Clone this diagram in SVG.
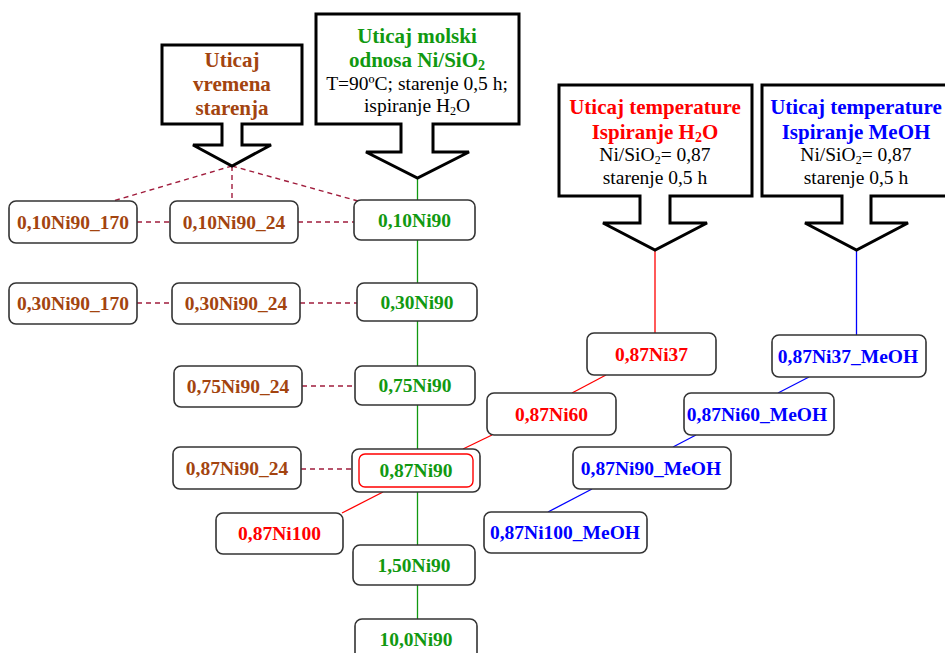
<svg xmlns="http://www.w3.org/2000/svg" width="945" height="653" viewBox="0 0 945 653">
<style>
.bg{fill:#ffffff}
.callout{fill:#ffffff;stroke:#000000;stroke-width:3;stroke-linejoin:miter}
.node{fill:#ffffff;stroke:#333333;stroke-width:1.6}
.inner{fill:none;stroke:#ff0000;stroke-width:1.4}
text{font-family:"Liberation Serif","Times New Roman",serif;text-anchor:middle}
.lbl{font-size:19.5px;font-weight:bold}
.ttl{font-size:21px;font-weight:bold}
.sub{font-size:19.5px;fill:#000000}
.br{fill:#a3440f}
.gr{fill:#119911}
.rd{fill:#ff0000}
.bl{fill:#0000ff}
.dash{stroke:#a01c3c;stroke-width:1.4;stroke-dasharray:5,4;fill:none}
.lg{stroke:#119911;stroke-width:1.3;fill:none}
.lr{stroke:#ff0000;stroke-width:1.3;fill:none}
.lb{stroke:#0000ff;stroke-width:1.3;fill:none}
</style>
<rect class="bg" x="0" y="0" width="945" height="653"/>

<g id="connectors">
  <line class="lg" x1="417.5" y1="178" x2="417.5" y2="620"/>
  <line class="dash" x1="232" y1="166" x2="113" y2="201"/>
  <line class="dash" x1="232" y1="166" x2="232" y2="201"/>
  <line class="dash" x1="232" y1="166" x2="358" y2="201"/>
  <line class="dash" x1="137" y1="222" x2="170" y2="222"/>
  <line class="dash" x1="298" y1="222" x2="354" y2="222"/>
  <line class="dash" x1="137" y1="303" x2="172" y2="303"/>
  <line class="dash" x1="300" y1="303" x2="357" y2="303"/>
  <line class="dash" x1="302" y1="386" x2="355" y2="386"/>
  <line class="dash" x1="301" y1="469" x2="352" y2="469"/>
  <line class="lr" x1="655" y1="250" x2="655" y2="333"/>
  <line class="lr" x1="606" y1="375" x2="572" y2="393"/>
  <line class="lr" x1="492" y1="435" x2="463" y2="449"/>
  <line class="lr" x1="383" y1="492" x2="342" y2="513"/>
  <line class="lb" x1="856.5" y1="250" x2="856.5" y2="335"/>
  <line class="lb" x1="809" y1="377" x2="778" y2="393"/>
  <line class="lb" x1="696" y1="435" x2="673" y2="447"/>
  <line class="lb" x1="592" y1="489" x2="548" y2="512"/>
</g>

<g id="callout-vremena">
  <path class="callout" d="M162 45 H302 V124 H242 V145 H271 L232 166 L193 145 H222 V124 H162 Z"/>
  <text class="ttl br" x="232" y="67">Uticaj</text>
  <text class="ttl br" x="232" y="91">vremena</text>
  <text class="ttl br" x="232" y="115">starenja</text>
</g>

<g id="callout-molski">
  <path class="callout" d="M316 14 H519 V124 H433 V152 H469 L417.5 178 L366 152 H401 V124 H316 Z"/>
  <text class="ttl gr" x="417" y="43">Uticaj molski</text>
  <text class="ttl gr" x="417" y="67">odnosa Ni/SiO<tspan font-size="14" dy="3">2</tspan></text>
  <text class="sub" x="417" y="90">T=90ºC; starenje 0,5 h;</text>
  <text class="sub" x="417" y="112">ispiranje H<tspan font-size="12" dy="3">2</tspan><tspan dy="-3">O</tspan></text>
</g>

<g id="callout-temp-h2o">
  <path class="callout" d="M559 85 H752 V196 H670 V223 H707 L655 250 L603 223 H640 V196 H559 Z"/>
  <text class="ttl rd" x="655" y="114">Uticaj temperature</text>
  <text class="ttl rd" x="655" y="139">Ispiranje H<tspan font-size="14" dy="3">2</tspan><tspan dy="-3">O</tspan></text>
  <text class="sub" x="655" y="161">Ni/SiO<tspan font-size="12" dy="3">2</tspan><tspan dy="-3">= 0,87</tspan></text>
  <text class="sub" x="655" y="184">starenje 0,5 h</text>
</g>

<g id="callout-temp-meoh">
  <path class="callout" d="M762 85 H951 V196 H871 V223 H908 L856.5 250 L805 223 H842 V196 H762 Z"/>
  <text class="ttl bl" x="856" y="114">Uticaj temperature</text>
  <text class="ttl bl" x="856" y="139">Ispiranje MeOH</text>
  <text class="sub" x="856" y="161">Ni/SiO<tspan font-size="12" dy="3">2</tspan><tspan dy="-3">= 0,87</tspan></text>
  <text class="sub" x="856" y="184">starenje 0,5 h</text>
</g>

<g id="n-010Ni90_170"><rect class="node" x="9" y="201" width="128" height="42" rx="7"/><text class="lbl br" x="73" y="229">0,10Ni90_170</text></g>
<g id="n-010Ni90_24"><rect class="node" x="170" y="201" width="128" height="42" rx="7"/><text class="lbl br" x="234" y="229">0,10Ni90_24</text></g>
<g id="n-010Ni90"><rect class="node" x="354" y="200" width="121" height="40" rx="7"/><text class="lbl gr" x="414.5" y="227">0,10Ni90</text></g>

<g id="n-030Ni90_170"><rect class="node" x="9" y="283" width="128" height="41" rx="7"/><text class="lbl br" x="73" y="310">0,30Ni90_170</text></g>
<g id="n-030Ni90_24"><rect class="node" x="172" y="283" width="128" height="41" rx="7"/><text class="lbl br" x="236" y="310">0,30Ni90_24</text></g>
<g id="n-030Ni90"><rect class="node" x="357" y="283" width="120" height="38" rx="7"/><text class="lbl gr" x="417" y="309">0,30Ni90</text></g>

<g id="n-075Ni90_24"><rect class="node" x="174" y="366" width="128" height="41" rx="7"/><text class="lbl br" x="238" y="393">0,75Ni90_24</text></g>
<g id="n-075Ni90"><rect class="node" x="355" y="366" width="120" height="39" rx="7"/><text class="lbl gr" x="415" y="392">0,75Ni90</text></g>

<g id="n-087Ni90_24"><rect class="node" x="173" y="447" width="128" height="42" rx="7"/><text class="lbl br" x="237" y="475">0,87Ni90_24</text></g>
<g id="n-087Ni90"><rect class="node" x="352" y="449" width="128" height="43" rx="7"/><rect class="inner" x="359" y="454" width="114" height="33" rx="6"/><text class="lbl gr" x="416" y="477">0,87Ni90</text></g>

<g id="n-087Ni100"><rect class="node" x="216" y="513" width="127" height="41" rx="7"/><text class="lbl rd" x="279.5" y="540">0,87Ni100</text></g>
<g id="n-150Ni90"><rect class="node" x="353" y="545" width="122" height="40" rx="7"/><text class="lbl gr" x="414" y="572">1,50Ni90</text></g>
<g id="n-100Ni90"><rect class="node" x="355" y="619" width="122" height="46" rx="7"/><text class="lbl gr" x="416" y="646">10,0Ni90</text></g>

<g id="n-087Ni37"><rect class="node" x="587" y="333" width="129" height="42" rx="7"/><text class="lbl rd" x="651.5" y="361">0,87Ni37</text></g>
<g id="n-087Ni60"><rect class="node" x="487" y="393" width="129" height="42" rx="7"/><text class="lbl rd" x="551.5" y="421">0,87Ni60</text></g>

<g id="n-087Ni37_MeOH"><rect class="node" x="772" y="335" width="154" height="42" rx="7"/><text class="lbl bl" x="848" y="363">0,87Ni37_MeOH</text></g>
<g id="n-087Ni60_MeOH"><rect class="node" x="684" y="393" width="150" height="42" rx="7"/><text class="lbl bl" x="757" y="421">0,87Ni60_MeOH</text></g>
<g id="n-087Ni90_MeOH"><rect class="node" x="573" y="447" width="158" height="42" rx="7"/><text class="lbl bl" x="651" y="475">0,87Ni90_MeOH</text></g>
<g id="n-087Ni100_MeOH"><rect class="node" x="484" y="512" width="163" height="41" rx="7"/><text class="lbl bl" x="565" y="539">0,87Ni100_MeOH</text></g>
</svg>
